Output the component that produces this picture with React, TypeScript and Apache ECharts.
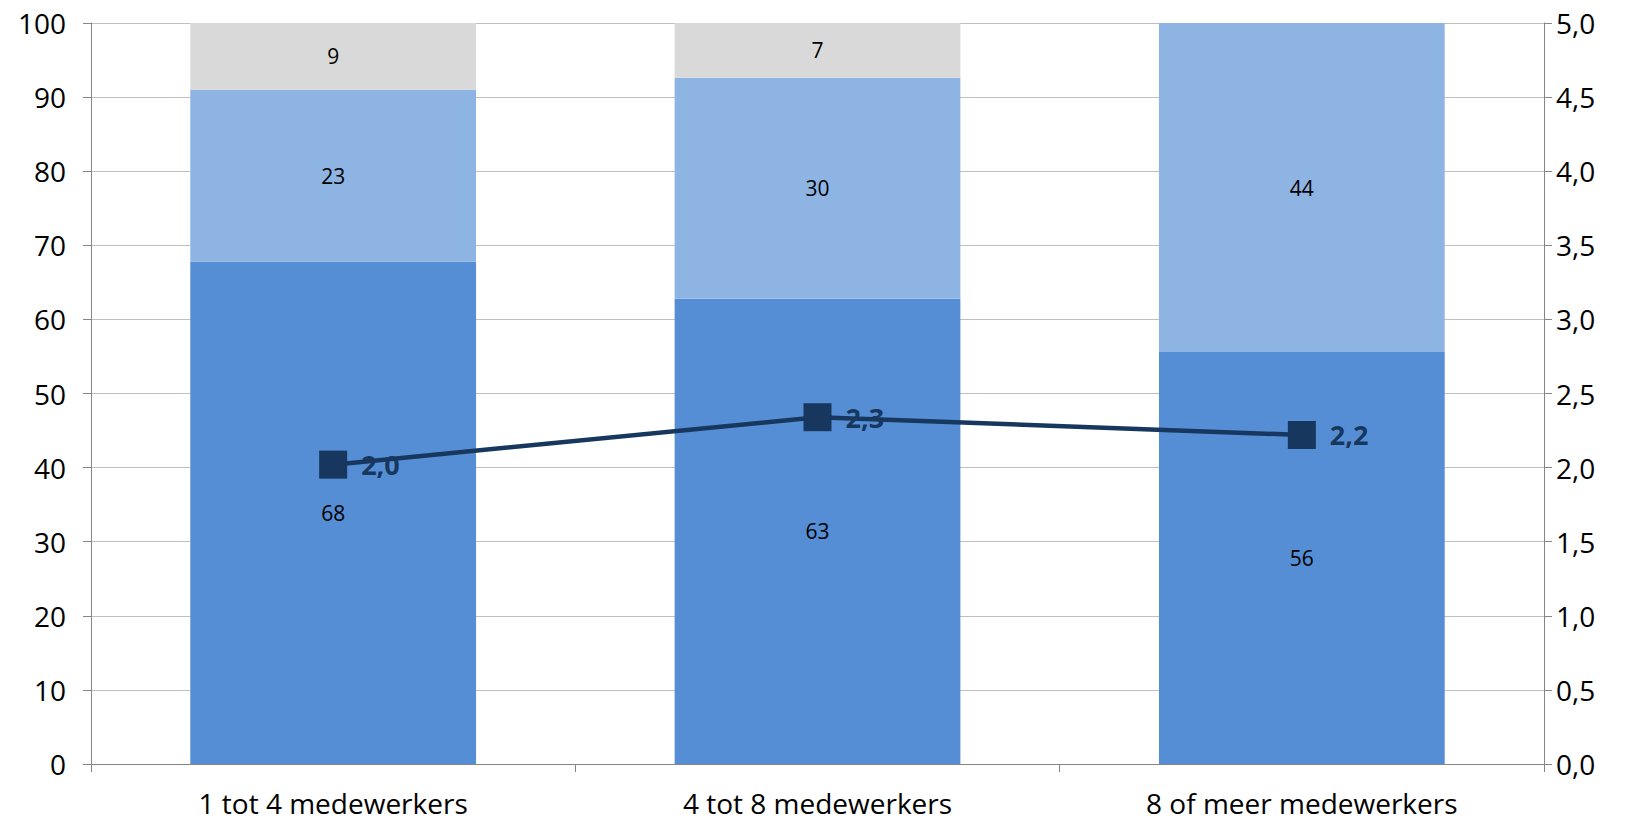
import React, { useEffect, useRef } from "react";
import * as echarts from "echarts";

const categories = ["1 tot 4 medewerkers", "4 tot 8 medewerkers", "8 of meer medewerkers"];
const seriesDark = [67.8, 62.8, 55.6];
const seriesLight = [23.2, 29.8, 44.4];
const seriesGray = [9.0, 7.4, 0];
const lineValues = [2.02, 2.34, 2.22];

const FONT = "'Open Sans', 'Liberation Sans', sans-serif";
const fmt = (v: number) => v.toFixed(1).replace(".", ",");

export default function App() {
  const ref = useRef<HTMLDivElement>(null);
  useEffect(() => {
    document.body.style.margin = "0";
    const chart = echarts.init(ref.current!, null, { renderer: "svg" });
    const barLabel = {
      show: true,
      position: "inside" as const,
      color: "#000",
      fontSize: 21,
      fontFamily: FONT,
      formatter: (p: any) => (p.value ? String(Math.round(p.value)) : ""),
    };
    chart.setOption({
      animation: false,
      grid: { left: 91, right: 81, top: 23, bottom: 57 },
      xAxis: {
        type: "category",
        data: categories,
        axisLine: { lineStyle: { color: "#868686", width: 1 } },
        axisTick: { show: true, length: 8, lineStyle: { color: "#868686" } },
        axisLabel: { color: "#000", fontSize: 28, fontFamily: FONT, margin: 25 },
      },
      yAxis: [
        {
          type: "value",
          min: 0,
          max: 100,
          interval: 10,
          axisLine: { show: true, lineStyle: { color: "#868686" } },
          axisTick: { show: true, length: 8, lineStyle: { color: "#868686" } },
          splitLine: { lineStyle: { color: "#BFBFBF" } },
          axisLabel: { color: "#000", fontSize: 28, fontFamily: FONT, margin: 25 },
        },
        {
          type: "value",
          min: 0,
          max: 5,
          interval: 0.5,
          position: "right",
          axisLine: { show: true, lineStyle: { color: "#868686" } },
          axisTick: { show: true, length: 8, lineStyle: { color: "#868686" } },
          splitLine: { show: false },
          axisLabel: { color: "#000", fontSize: 28, fontFamily: FONT, margin: 12, formatter: (v: number) => fmt(v) },
        },
      ],
      series: [
        {
          type: "bar",
          stack: "s",
          data: seriesDark,
          barCategoryGap: "41%",
          itemStyle: { color: "#558ED5" },
          label: barLabel,
        },
        {
          type: "bar",
          stack: "s",
          data: seriesLight,
          itemStyle: { color: "#8EB4E3" },
          label: barLabel,
        },
        {
          type: "bar",
          stack: "s",
          data: seriesGray,
          itemStyle: { color: "#D9D9D9" },
          label: barLabel,
        },
        {
          type: "line",
          yAxisIndex: 1,
          data: lineValues,
          symbol: "rect",
          symbolSize: 28,
          itemStyle: { color: "#17375E" },
          lineStyle: { color: "#17375E", width: 4.5 },
          label: {
            show: true,
            position: "right",
            distance: 14,
            color: "#17375E",
            fontSize: 27,
            fontWeight: "bold",
            fontFamily: FONT,
            formatter: (p: any) => fmt(p.value),
          },
          z: 5,
        },
      ],
    });
    return () => chart.dispose();
  }, []);
  return <div ref={ref} style={{ width: 1625, height: 821 }} />;
}
